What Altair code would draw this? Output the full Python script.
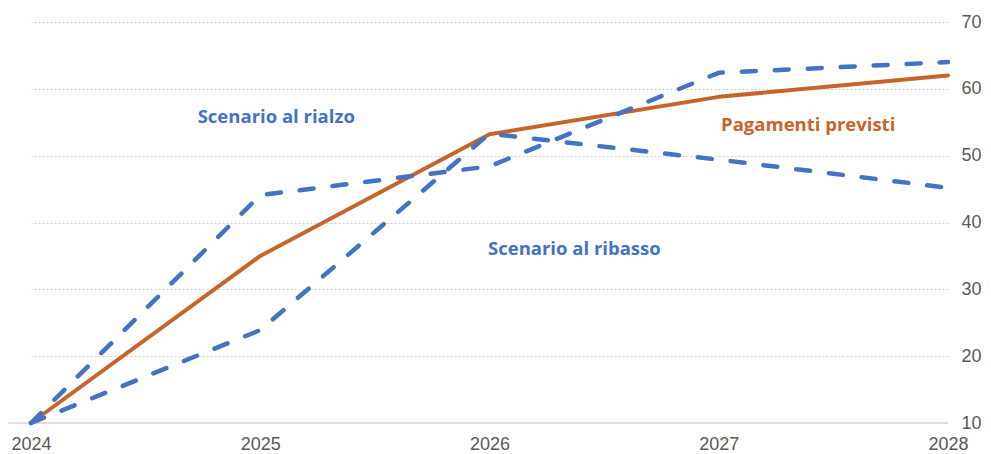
import altair as alt
import pandas as pd

years = [2024, 2025, 2026, 2027, 2028]
pagamenti_previsti = [10, 35, 53.2, 58.8, 62.0]
scenario_rialzo = [10, 44.1, 48.4, 62.4, 64.0]
scenario_ribasso = [10, 23.9, 53.3, 49.4, 45.2]

label_texts = ["Scenario al rialzo", "Scenario al ribasso", "Pagamenti previsti"]
label_x = [2025.07, 2026.37, 2027.39]
label_y = [55.8, 36.0, 54.6]
label_colors = ["#4472C4", "#4472C4", "#C8642A"]

ORANGE = "#C8642A"
BLUE = "#4472C4"
GRAY = "#595959"

df_main = pd.DataFrame({"year": years, "value": pagamenti_previsti})
df_dash = pd.concat([
    pd.DataFrame({"year": years, "value": scenario_rialzo, "serie": "Scenario al rialzo"}),
    pd.DataFrame({"year": years, "value": scenario_ribasso, "serie": "Scenario al ribasso"}),
])
df_lab = pd.DataFrame({"x": label_x, "y": label_y, "text": label_texts, "color": label_colors})

xscale = alt.Scale(domain=[2024, 2028], nice=False, zero=False)
yscale = alt.Scale(domain=[10, 70], nice=False, zero=False)

xaxis = alt.Axis(values=years, format="d", title=None, grid=False, domain=False,
                 ticks=False, labelFontSize=18, labelColor=GRAY, labelPadding=12,
                 labelFlush=False, labelFont="Liberation Sans")
yaxis = alt.Axis(values=[10, 20, 30, 40, 50, 60, 70], orient="right", title=None,
                 domain=False, ticks=False, grid=True, gridColor="#cfcfcf",
                 gridDash=[2, 2], gridWidth=1, labelFontSize=18, labelColor=GRAY,
                 labelPadding=13, labelFlush=False, labelFont="Liberation Sans")

base_rule = alt.Chart(pd.DataFrame({"v": [10]})).mark_rule(
    color="#d9d9d9", strokeWidth=1.5
).encode(y=alt.Y("v:Q", scale=yscale, axis=yaxis), x=alt.value(-23), x2=alt.value(917))

orange = alt.Chart(df_main).mark_line(
    color=ORANGE, strokeWidth=4, strokeCap="round", strokeJoin="round"
).encode(
    x=alt.X("year:Q", scale=xscale, axis=xaxis),
    y=alt.Y("value:Q", scale=yscale, axis=yaxis),
)

blue = alt.Chart(df_dash).mark_line(
    color=BLUE, strokeWidth=4.5, strokeDash=[14, 19], strokeCap="round", strokeJoin="round"
).encode(
    x=alt.X("year:Q", scale=xscale),
    y=alt.Y("value:Q", scale=yscale),
    detail="serie:N",
)

labels = alt.Chart(df_lab).mark_text(
    fontSize=18.5, fontWeight="bold", font="Open Sans", align="center", baseline="middle"
).encode(
    x=alt.X("x:Q", scale=xscale),
    y=alt.Y("y:Q", scale=yscale),
    text="text:N",
    color=alt.Color("color:N", scale=None),
)

chart = alt.layer(base_rule, orange, blue, labels).properties(
    width=917, height=401,
    autosize=alt.AutoSizeParams(type="none"),
    padding={"left": 23, "top": 14, "right": 35, "bottom": 31},
).configure_view(stroke=None)

chart.save("out.html", embed_options={"renderer": "svg", "actions": False})
